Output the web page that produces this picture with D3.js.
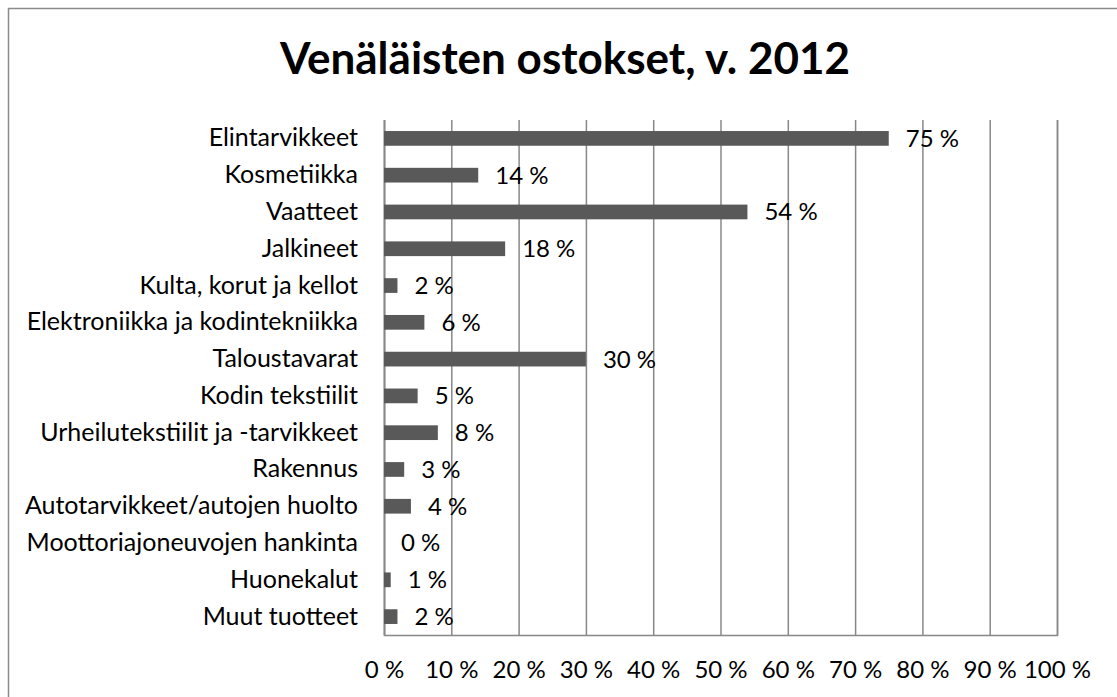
<!DOCTYPE html>
<html>
<head>
<meta charset="utf-8">
<script src="https://cdn.jsdelivr.net/npm/d3@7"></script>
<style>
  html, body { margin: 0; padding: 0; background: #fff; }
  svg { display: block; }
  text { font-family: Lato, "Open Sans", sans-serif; fill: #000; }
</style>
</head>
<body>
<svg id="chart" width="1117" height="697"></svg>
<script>
const title = "Venäläisten ostokset, v. 2012";
const categories = [
  "Elintarvikkeet",
  "Kosmetiikka",
  "Vaatteet",
  "Jalkineet",
  "Kulta, korut ja kellot",
  "Elektroniikka ja kodintekniikka",
  "Taloustavarat",
  "Kodin tekstiilit",
  "Urheilutekstiilit ja -tarvikkeet",
  "Rakennus",
  "Autotarvikkeet/autojen huolto",
  "Moottoriajoneuvojen hankinta",
  "Huonekalut",
  "Muut tuotteet"
];
const values = [75, 14, 54, 18, 2, 6, 30, 5, 8, 3, 4, 0, 1, 2];
const tickValues = [0, 10, 20, 30, 40, 50, 60, 70, 80, 90, 100];

(function () {
const svg = d3.select("#chart");
const pLeft = 384, pRight = 1057, pTop = 120, pBottom = 635;

// outer frame (extends beyond right/bottom edges)
svg.append("rect")
  .attr("x", 8.5).attr("y", 8.5)
  .attr("width", 1300).attr("height", 1000)
  .attr("fill", "#fff").attr("stroke", "#8a8a8a").attr("stroke-width", 1.5);

svg.append("text")
  .attr("x", 565).attr("y", 74)
  .attr("text-anchor", "middle")
  .attr("font-size", 44).attr("font-weight", "bold")
  .text(title);

const x = d3.scaleLinear().domain([0, 100]).range([pLeft, pRight]);
const y = d3.scaleBand().domain(categories).range([pTop, pBottom])
  .paddingInner(0.6).paddingOuter(0.3);

const gridColor = "#888888";

// x axis with vertical gridlines
const xAxis = svg.append("g")
  .attr("transform", `translate(0,${pBottom})`)
  .call(d3.axisBottom(x).tickValues(tickValues)
    .tickSize(-(pBottom - pTop)).tickFormat(d => d + " %"));
xAxis.select(".domain").attr("stroke", gridColor).attr("stroke-width", 1.5);
xAxis.selectAll(".tick line").attr("stroke", gridColor).attr("stroke-width", 1.5);
xAxis.selectAll(".tick text")
  .attr("y", 35).attr("dy", "0.35em")
  .attr("font-size", 24).attr("font-family", "Lato, sans-serif").attr("fill", "#000");

// y axis
const yAxis = svg.append("g")
  .attr("transform", `translate(${pLeft},0)`)
  .call(d3.axisLeft(y).tickSize(0).tickPadding(26));
yAxis.select(".domain").attr("stroke", gridColor).attr("stroke-width", 1.5);
yAxis.selectAll(".tick text")
  .attr("font-size", 25).attr("font-family", "Lato, sans-serif").attr("fill", "#000");

const data = categories.map((c, i) => ({ c, v: values[i] }));

// bars
svg.append("g").selectAll("rect")
  .data(data).join("rect")
  .attr("x", x(0))
  .attr("y", d => y(d.c))
  .attr("width", d => x(d.v) - x(0))
  .attr("height", y.bandwidth())
  .attr("fill", "#595959");

// value labels
svg.append("g").selectAll("text")
  .data(data).join("text")
  .attr("x", d => x(d.v) + 17)
  .attr("y", d => y(d.c) + y.bandwidth() / 2)
  .attr("dy", "0.35em")
  .attr("font-size", 24)
  .text(d => d.v + " %");
})();
</script>
</body>
</html>
